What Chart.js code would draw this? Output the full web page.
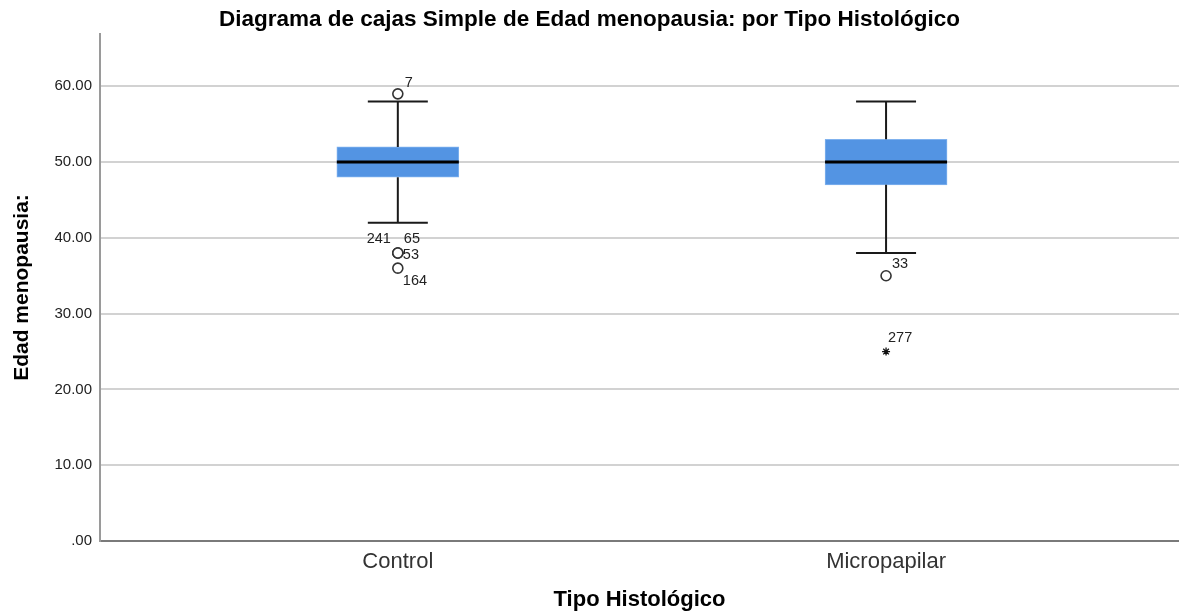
<!DOCTYPE html>
<html>
<head>
<meta charset="utf-8">
<title>Diagrama de cajas</title>
<script src="https://cdn.jsdelivr.net/npm/chart.js@4/dist/chart.umd.min.js"></script>
<style>
  html, body { margin: 0; padding: 0; background: #ffffff; }
  #wrap { width: 1179px; height: 613px; }
</style>
</head>
<body>
<div id="wrap"><canvas id="c" width="1179" height="613"></canvas></div>
<script>
// Five-number summary per histological type
const categories   = ['Control', 'Micropapilar'];
const whiskerLow   = [42, 38];
const q1           = [48, 47];
const median       = [50, 50];
const q3           = [52, 53];
const whiskerHigh  = [58, 58];

// Outliers (circles): group index, value, case number
const outlierGroup = [0, 0, 0, 0, 0, 1];
const outlierValue = [59, 38, 38, 38, 36, 35];
const outlierCase  = ['7', '241', '65', '53', '164', '33'];

// Extreme values (asterisks)
const extremeGroup = [1];
const extremeValue = [25];
const extremeCase  = ['277'];

// Y axis ticks
const yTicks = [0, 10, 20, 30, 40, 50, 60];

// Where each case label sits next to its marker: [dx, dy, align]
const outlierLabelPlace = [[7, -11, 'left'], [-7, -14, 'right'], [6, -14, 'left'], [5, 2, 'left'], [5, 13, 'left'], [6, -12, 'left']];
const extremeLabelPlace = [[2, -14, 'left']];

const FONT = '"Liberation Sans", Arial, sans-serif';

const whiteBg = {
  id: 'whiteBg',
  beforeDraw(chart) {
    const ctx = chart.ctx;
    ctx.save();
    ctx.fillStyle = '#ffffff';
    ctx.fillRect(0, 0, chart.width, chart.height);
    ctx.restore();
  }
};

// Whiskers, caps, medians and case labels drawn on the chart's own scales
const boxExtras = {
  id: 'boxExtras',
  afterDatasetsDraw(chart) {
    const ctx = chart.ctx;
    const xs = chart.scales.x, ys = chart.scales.y;
    const boxW = chart.getDatasetMeta(0).data[0].width;
    const capHalf = 30;
    ctx.save();
    categories.forEach((c, i) => {
      const cx = xs.getPixelForValue(i + 1);
      const yLo = ys.getPixelForValue(whiskerLow[i]);
      const yQ1 = ys.getPixelForValue(q1[i]);
      const yQ3 = ys.getPixelForValue(q3[i]);
      const yHi = ys.getPixelForValue(whiskerHigh[i]);
      const yMed = ys.getPixelForValue(median[i]);
      ctx.strokeStyle = '#1a1a1a';
      ctx.lineWidth = 2;
      ctx.beginPath();
      ctx.moveTo(cx, yQ3); ctx.lineTo(cx, yHi);
      ctx.moveTo(cx, yQ1); ctx.lineTo(cx, yLo);
      ctx.moveTo(cx - capHalf, yHi); ctx.lineTo(cx + capHalf, yHi);
      ctx.moveTo(cx - capHalf, yLo); ctx.lineTo(cx + capHalf, yLo);
      ctx.stroke();
      ctx.strokeStyle = '#000000';
      ctx.lineWidth = 3;
      ctx.beginPath();
      ctx.moveTo(cx - boxW / 2, yMed); ctx.lineTo(cx + boxW / 2, yMed);
      ctx.stroke();
    });
    ctx.fillStyle = '#222222';
    ctx.font = '14.5px ' + FONT;
    ctx.textBaseline = 'middle';
    const label = (groups, values, cases, place) => {
      cases.forEach((t, k) => {
        const px = xs.getPixelForValue(groups[k] + 1);
        const py = ys.getPixelForValue(values[k]);
        const [dx, dy, al] = place[k];
        ctx.textAlign = al;
        ctx.fillText(t, px + dx, py + dy);
      });
    };
    label(outlierGroup, outlierValue, outlierCase, outlierLabelPlace);
    label(extremeGroup, extremeValue, extremeCase, extremeLabelPlace);
    ctx.restore();
  }
};

new Chart(document.getElementById('c'), {
  type: 'bar',
  data: {
    datasets: [
      {
        type: 'bar',
        data: categories.map((c, i) => ({ x: i + 1, y: [q1[i], q3[i]] })),
        backgroundColor: '#5394e3',
        borderColor: '#80b2ee',
        borderWidth: 1,
        borderSkipped: false,
        barThickness: 122,
        grouped: false,
        order: 2
      },
      {
        type: 'scatter',
        data: outlierValue.map((v, k) => ({ x: outlierGroup[k] + 1, y: v })),
        pointStyle: 'circle',
        pointRadius: 5,
        pointBackgroundColor: '#ffffff',
        pointBorderColor: '#333333',
        pointBorderWidth: 1.6,
        order: 1
      },
      {
        type: 'scatter',
        data: extremeValue.map((v, k) => ({ x: extremeGroup[k] + 1, y: v })),
        pointStyle: 'star',
        pointRadius: 4,
        pointBorderColor: '#111111',
        pointBorderWidth: 1.3,
        order: 1
      }
    ]
  },
  options: {
    responsive: false,
    animation: false,
    devicePixelRatio: 1,
    layout: { padding: 0, autoPadding: false },
    plugins: {
      legend: { display: false },
      tooltip: { enabled: false },
      title: {
        display: true,
        text: 'Diagrama de cajas Simple de Edad menopausia: por Tipo Histológico',
        color: '#000000',
        font: { family: FONT, size: 22.5, weight: 'bold' },
        padding: { top: 6, bottom: 1 }
      }
    },
    scales: {
      x: {
        type: 'linear',
        offset: false,
        min: 0.39,
        max: 2.6,
        afterBuildTicks(scale) { scale.ticks = categories.map((c, i) => ({ value: i + 1 })); },
        afterFit(scale) { scale.height = 72; },
        ticks: {
          padding: 8,
          color: '#333333',
          font: { family: FONT, size: 22 },
          callback: (v) => categories[v - 1]
        },
        grid: { display: false, drawTicks: false, offset: false },
        border: { display: true, color: '#7a7a7a', width: 2 },
        title: {
          display: true,
          text: 'Tipo Histológico',
          color: '#000000',
          font: { family: FONT, size: 22, weight: 'bold' },
          padding: { top: 0, bottom: 0 }
        }
      },
      y: {
        type: 'linear',
        min: 0,
        max: 66.9,
        afterBuildTicks(scale) { scale.ticks = yTicks.map(v => ({ value: v })); },
        afterFit(scale) { scale.width = 100; },
        ticks: {
          padding: 8,
          color: '#222222',
          font: { family: FONT, size: 15 },
          callback: (v) => v === 0 ? '.00' : v.toFixed(2)
        },
        grid: { color: '#d2d2d2', lineWidth: 2, drawTicks: false },
        border: { display: true, color: '#9a9a9a', width: 2 },
        title: {
          display: true,
          text: 'Edad menopausia:',
          color: '#000000',
          font: { family: FONT, size: 21, weight: 'bold' },
          padding: { top: 10, bottom: 0 }
        }
      }
    }
  },
  plugins: [whiteBg, boxExtras]
});
</script>
</body>
</html>
